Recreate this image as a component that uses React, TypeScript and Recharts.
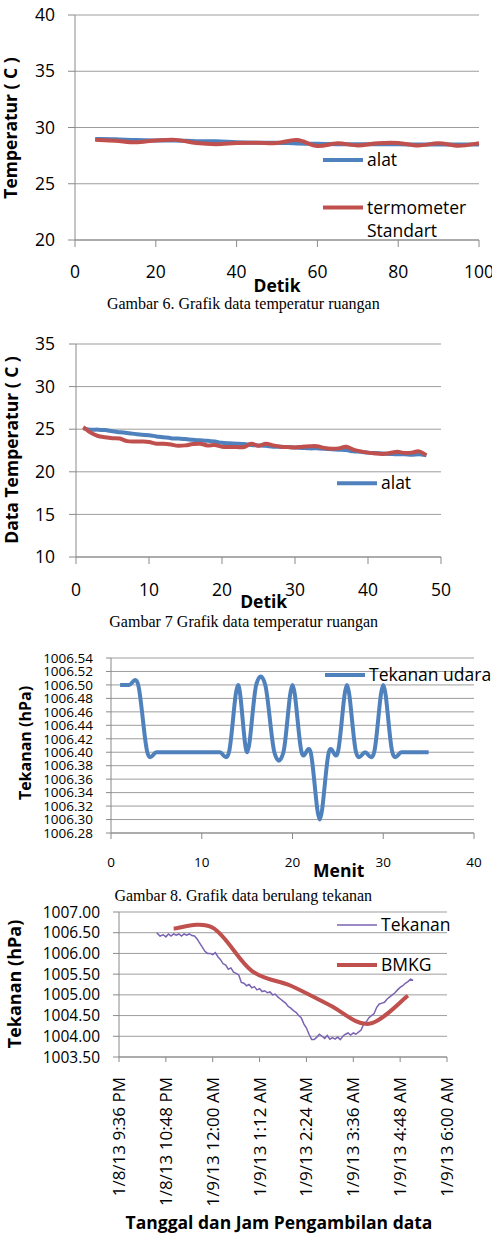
import React from "react";
import { LineChart, Line, XAxis, YAxis, CartesianGrid } from "recharts";

const BLUE = "#4F81BD";
const RED = "#C0504D";
const PURPLE = "#7A63B2";
const GRID = "#9d9d9d";
const AXIS = "#8a8a8a";
const FONT = "'Open Sans', sans-serif";
const SERIF = "'Liberation Serif', 'Times New Roman', serif";

// Gambar 6 - suhu ruangan, alat vs termometer standar
const detik6 = [5, 10, 15, 20, 25, 30, 35, 40, 45, 50, 55, 60, 65, 70, 75, 80, 85, 90, 95, 100];
const alat6 = [28.97, 28.95, 28.88, 28.85, 28.85, 28.78, 28.78, 28.68, 28.65, 28.65, 28.58, 28.55, 28.52, 28.52, 28.52, 28.5, 28.5, 28.48, 28.48, 28.48];
const termometer6 = [28.9, 28.82, 28.68, 28.85, 28.9, 28.62, 28.52, 28.62, 28.65, 28.62, 28.88, 28.35, 28.6, 28.4, 28.6, 28.62, 28.4, 28.6, 28.38, 28.6];
const ticksX6 = [0, 20, 40, 60, 80, 100];
const ticksY6 = [20, 25, 30, 35, 40];

// Gambar 7
const detik7 = [1, 2, 3, 4, 5, 6, 7, 8, 9, 10, 11, 12, 13, 14, 15, 16, 17, 18, 19, 20, 21, 22, 23, 24, 25, 26, 27, 28, 29, 30, 31, 32, 33, 34, 35, 36, 37, 38, 39, 40, 41, 42, 43, 44, 45, 46, 47, 48];
const alat7 = [25.1, 24.95, 24.95, 24.9, 24.75, 24.65, 24.55, 24.45, 24.35, 24.3, 24.15, 24.05, 23.95, 23.9, 23.85, 23.75, 23.7, 23.65, 23.55, 23.4, 23.35, 23.3, 23.25, 23.15, 23.1, 23.05, 22.95, 22.95, 22.9, 22.85, 22.8, 22.75, 22.75, 22.7, 22.65, 22.6, 22.55, 22.4, 22.35, 22.25, 22.2, 22.15, 22.1, 22.05, 22.05, 22.0, 22.05, 21.95];
const termometer7 = [25.25, 24.6, 24.2, 24.05, 23.95, 23.9, 23.6, 23.55, 23.55, 23.5, 23.3, 23.3, 23.2, 23.05, 23.1, 23.25, 23.3, 23.1, 23.15, 22.95, 22.9, 22.9, 22.9, 23.3, 23.05, 23.3, 23.1, 22.95, 22.9, 22.85, 22.95, 23.0, 23.0, 22.8, 22.7, 22.75, 22.95, 22.6, 22.4, 22.25, 22.15, 22.1, 22.2, 22.35, 22.2, 22.25, 22.4, 21.95];
const ticksX7 = [0, 10, 20, 30, 40, 50];
const ticksY7 = [10, 15, 20, 25, 30, 35];

// Gambar 8 - tekanan berulang per menit
const menit8 = [1, 2, 3, 4, 5, 6, 7, 8, 9, 10, 11, 12, 13, 14, 15, 16, 17, 18, 19, 20, 21, 22, 23, 24, 25, 26, 27, 28, 29, 30, 31, 32, 33, 34, 35];
const tekananUdara8 = [1006.5, 1006.5, 1006.5, 1006.4, 1006.4, 1006.4, 1006.4, 1006.4, 1006.4, 1006.4, 1006.4, 1006.4, 1006.4, 1006.5, 1006.4, 1006.5, 1006.5, 1006.4, 1006.4, 1006.5, 1006.4, 1006.4, 1006.3, 1006.4, 1006.4, 1006.5, 1006.4, 1006.4, 1006.4, 1006.5, 1006.4, 1006.4, 1006.4, 1006.4, 1006.4];
const ticksX8 = [0, 10, 20, 30, 40];
const ticksY8 = [1006.28, 1006.3, 1006.32, 1006.34, 1006.36, 1006.38, 1006.4, 1006.42, 1006.44, 1006.46, 1006.48, 1006.5, 1006.52, 1006.54];

// Gambar 9 - tekanan alat vs BMKG; waktu dalam menit sejak 1/8/13 9:36 PM
const waktuTekanan = [58, 63, 68, 72, 76, 80, 84, 88, 92, 96, 100, 104, 108, 112, 116, 120, 124, 128, 132, 136, 140, 144, 148, 152, 156, 160, 164, 168, 172, 176, 180, 184, 188, 192, 196, 200, 204, 208, 212, 216, 220, 224, 228, 232, 236, 240, 244, 248, 252, 256, 260, 264, 268, 272, 276, 280, 284, 288, 292, 296, 300, 304, 308, 312, 316, 320, 324, 328, 332, 336, 340, 344, 348, 352, 356, 360, 364, 368, 372, 376, 380, 384, 388, 392, 396, 400, 404, 408, 412, 416, 420, 424, 428, 432, 436, 440, 444, 448, 452];
const nilaiTekanan = [1006.5, 1006.42, 1006.45, 1006.4, 1006.47, 1006.42, 1006.47, 1006.44, 1006.47, 1006.42, 1006.47, 1006.44, 1006.47, 1006.43, 1006.42, 1006.35, 1006.25, 1006.15, 1006.05, 1006.0, 1006.0, 1005.97, 1006.02, 1005.92, 1005.85, 1005.75, 1005.72, 1005.62, 1005.65, 1005.55, 1005.52, 1005.48, 1005.3, 1005.28, 1005.22, 1005.25, 1005.17, 1005.2, 1005.12, 1005.15, 1005.08, 1005.1, 1005.05, 1005.07, 1005.0, 1005.02, 1004.95, 1004.9, 1004.85, 1004.8, 1004.72, 1004.68, 1004.62, 1004.58, 1004.5, 1004.45, 1004.3, 1004.2, 1004.05, 1003.92, 1003.92, 1003.98, 1004.05, 1004.0, 1003.95, 1004.02, 1003.93, 1003.97, 1003.93, 1003.98, 1003.92, 1004.0, 1004.05, 1004.08, 1004.03, 1004.08, 1004.05, 1004.1, 1004.15, 1004.3, 1004.35, 1004.45, 1004.5, 1004.55, 1004.7, 1004.78, 1004.8, 1004.82, 1004.9, 1004.95, 1005.0, 1005.05, 1005.12, 1005.18, 1005.22, 1005.28, 1005.32, 1005.38, 1005.35];
const waktuBMKG = [84, 144, 204, 264, 324, 384, 444];
const nilaiBMKG = [1006.6, 1006.62, 1005.58, 1005.22, 1004.75, 1004.3, 1004.98];
const ticksX9 = [0, 72, 144, 216, 288, 360, 432, 504];
const labelX9 = ["1/8/13 9:36 PM", "1/8/13 10:48 PM", "1/9/13 12:00 AM", "1/9/13 1:12 AM", "1/9/13 2:24 AM", "1/9/13 3:36 AM", "1/9/13 4:48 AM", "1/9/13 6:00 AM"];
const ticksY9 = [1003.5, 1004, 1004.5, 1005, 1005.5, 1006, 1006.5, 1007];

const data6 = detik6.map((t, i) => ({ t, alat: alat6[i], termometer: termometer6[i] }));
const data7 = detik7.map((t, i) => ({ t, alat: alat7[i], termometer: termometer7[i] }));
const data8 = menit8.map((t, i) => ({ t, tekanan: tekananUdara8[i] }));
const dataTekanan = waktuTekanan.map((t, i) => ({ t, v: nilaiTekanan[i] }));
const dataBMKG = waktuBMKG.map((t, i) => ({ t, v: nilaiBMKG[i] }));

// spreadsheet-style smoothing: Catmull-Rom segments written as cubic beziers
const smooth = (context: any) => {
  let pts: number[][] = [];
  return {
    areaStart() {},
    areaEnd() {},
    lineStart() {
      pts = [];
    },
    point(x: number, y: number) {
      pts.push([+x, +y]);
    },
    lineEnd() {
      if (!pts.length) return;
      context.moveTo(pts[0][0], pts[0][1]);
      for (let i = 0; i < pts.length - 1; i++) {
        const a = pts[Math.max(i - 1, 0)];
        const b = pts[i];
        const c = pts[i + 1];
        const d = pts[Math.min(i + 2, pts.length - 1)];
        context.bezierCurveTo(
          b[0] + (c[0] - a[0]) / 6,
          b[1] + (c[1] - a[1]) / 6,
          c[0] - (d[0] - b[0]) / 6,
          c[1] - (d[1] - b[1]) / 6,
          c[0],
          c[1]
        );
      }
    },
  };
};

const tickFont = (size: number) => ({ fill: "#000", fontSize: size, fontFamily: FONT });

const Title = ({ x, y, size = 17.5, rotate = false, children }: any) => (
  <text
    x={x}
    y={y}
    textAnchor="middle"
    dy={rotate ? "0.35em" : 0}
    transform={rotate ? `rotate(-90 ${x} ${y})` : undefined}
    fontFamily={FONT}
    fontWeight="bold"
    fontSize={size}
    fill="#000"
  >
    {children}
  </text>
);

const LegendItem = ({ x, y, color, width = 4, lines }: any) => (
  <g>
    <line x1={x} x2={x + 40} y1={y} y2={y} stroke={color} strokeWidth={width} />
    {lines.map((s: string, i: number) => (
      <text key={s} x={x + 44} y={y + i * 23.5} dy="0.35em" fontFamily={FONT} fontSize={17.5} fill="#000">
        {s}
      </text>
    ))}
  </g>
);

const DateTick = ({ x, y, payload }: any) => (
  <text
    x={x}
    y={y}
    dy="0.35em"
    textAnchor="end"
    transform={`rotate(-90 ${x} ${y})`}
    fontFamily={FONT}
    fontSize={17}
    fill="#000"
  >
    {labelX9[ticksX9.indexOf(payload.value)]}
  </text>
);

const place = (top: number): React.CSSProperties => ({ position: "absolute", left: 0, top });

export default function App() {
  return (
    <div style={{ position: "absolute", left: 0, top: 0, width: 492, height: 1244, background: "#fff", overflow: "hidden" }}>
      <div style={place(0)}>
        <LineChart width={492} height={300} data={data6} margin={{ top: 15, right: 13, bottom: 0, left: 0 }}>
          <CartesianGrid vertical={false} stroke={GRID} />
          <XAxis type="number" dataKey="t" domain={[0, 100]} ticks={ticksX6} interval={0} height={60} tickSize={7} tickMargin={19} stroke={AXIS} tick={tickFont(17.5)} />
          <YAxis type="number" domain={[20, 40]} ticks={ticksY6} interval={0} width={75} tickSize={7} tickMargin={13} stroke={AXIS} tick={tickFont(17.5)} />
          <Line dataKey="alat" stroke={BLUE} strokeWidth={4} dot={false} activeDot={false} type={smooth as any} isAnimationActive={false} />
          <Line dataKey="termometer" stroke={RED} strokeWidth={4} dot={false} activeDot={false} type={smooth as any} isAnimationActive={false} />
          <LegendItem x={323} y={160} color={BLUE} lines={["alat"]} />
          <LegendItem x={323} y={207.5} color={RED} lines={["termometer", "Standart"]} />
          <Title x={11} y={128} rotate>Temperatur ( C )</Title>
          <Title x={277} y={292}>Detik</Title>
        </LineChart>
      </div>

      <div style={place(320)}>
        <LineChart width={492} height={300} data={data7} margin={{ top: 24, right: 51, bottom: 0, left: 0 }}>
          <CartesianGrid vertical={false} stroke={GRID} />
          <XAxis type="number" dataKey="t" domain={[0, 50]} ticks={ticksX7} interval={0} height={63} tickSize={7} tickMargin={20} stroke={AXIS} tick={tickFont(17.5)} />
          <YAxis type="number" domain={[10, 35]} ticks={ticksY7} interval={0} width={76} tickSize={7} tickMargin={14} stroke={AXIS} tick={tickFont(17.5)} />
          <Line dataKey="alat" stroke={BLUE} strokeWidth={4} dot={false} activeDot={false} type={smooth as any} isAnimationActive={false} />
          <Line dataKey="termometer" stroke={RED} strokeWidth={4} dot={false} activeDot={false} type={smooth as any} isAnimationActive={false} />
          <LegendItem x={337} y={163.3} color={BLUE} lines={["alat"]} />
          <Title x={12} y={130} rotate>Data Temperatur ( C )</Title>
          <Title x={263.7} y={288}>Detik</Title>
        </LineChart>
      </div>

      <div style={place(640)}>
        <LineChart width={492} height={250} data={data8} margin={{ top: 18, right: 18, bottom: 0, left: 0 }}>
          <CartesianGrid vertical={false} stroke={GRID} />
          <XAxis type="number" dataKey="t" domain={[0, 40]} ticks={ticksX8} interval={0} height={57} tickSize={6} tickMargin={18} stroke={AXIS} tick={tickFont(13.5)} />
          <YAxis type="number" domain={[1006.28, 1006.54]} ticks={ticksY8} interval={0} width={111} tickSize={5} tickMargin={13} stroke={AXIS} tick={tickFont(13.5)} tickFormatter={(v: number) => v.toFixed(2)} />
          <Line dataKey="tekanan" stroke={BLUE} strokeWidth={4} dot={false} activeDot={false} type={smooth as any} isAnimationActive={false} />
          <LegendItem x={325} y={35} color={BLUE} lines={["Tekanan udara"]} />
          <Title x={25} y={103} size={16} rotate>Tekanan (hPa)</Title>
          <Title x={338.7} y={237}>Menit</Title>
        </LineChart>
      </div>

      <div style={place(890)}>
        <LineChart width={492} height={354} margin={{ top: 22, right: 45, bottom: 0, left: 0 }}>
          <CartesianGrid vertical={false} stroke={GRID} />
          <XAxis type="number" dataKey="t" domain={[0, 504]} ticks={ticksX9} interval={0} height={187} tickSize={5} tickMargin={15} stroke={AXIS} tick={<DateTick />} />
          <YAxis type="number" domain={[1003.5, 1007]} ticks={ticksY9} interval={0} width={119} tickSize={6} tickMargin={13} stroke={AXIS} tick={tickFont(15.5)} tickFormatter={(v: number) => v.toFixed(2)} />
          <Line data={dataTekanan} dataKey="v" name="Tekanan" stroke={PURPLE} strokeWidth={1.5} dot={false} activeDot={false} type="linear" isAnimationActive={false} />
          <Line data={dataBMKG} dataKey="v" name="BMKG" stroke={RED} strokeWidth={4} dot={false} activeDot={false} type={smooth as any} isAnimationActive={false} />
          <LegendItem x={337} y={35} color={PURPLE} width={1.5} lines={["Tekanan"]} />
          <LegendItem x={337} y={75} color={RED} lines={["BMKG"]} />
          <Title x={15} y={94} size={18} rotate>Tekanan (hPa)</Title>
          <Title x={279} y={339}>Tanggal dan Jam Pengambilan data</Title>
        </LineChart>
      </div>

      <svg width={492} height={1244} style={{ position: "absolute", left: 0, top: 0, pointerEvents: "none" }}>
        <g fontFamily={SERIF} fontSize={16} fill="#000" textAnchor="middle">
          <text x={243.3} y={309}>Gambar 6. Grafik data temperatur ruangan</text>
          <text x={243.7} y={627}>Gambar 7 Grafik data temperatur ruangan</text>
          <text x={243.3} y={901}>Gambar 8. Grafik data berulang tekanan</text>
        </g>
      </svg>
    </div>
  );
}
